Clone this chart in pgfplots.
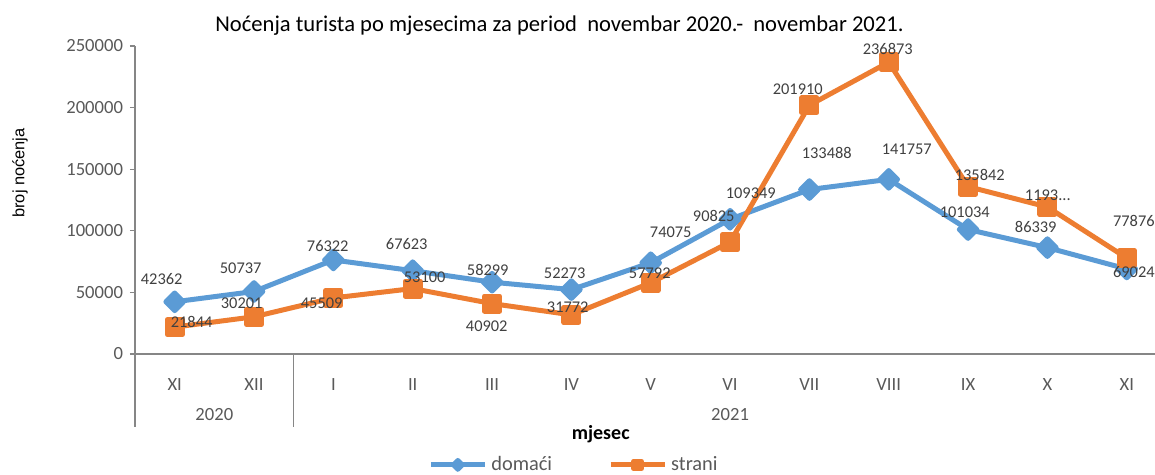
\documentclass[border=0pt]{standalone}
\usepackage{fontspec}
\setmainfont{Carlito}
\newfontfamily\arialfont{Liberation Sans}
\usepackage{pgfplots}
\pgfplotsset{compat=1.18}
\definecolor{cblue}{RGB}{91,155,213}
\definecolor{corange}{RGB}{237,125,49}
\definecolor{axgray}{RGB}{134,134,134}
\definecolor{txtgray}{RGB}{89,89,89}
\definecolor{lblgray}{RGB}{64,64,64}
\begin{document}
\begin{tikzpicture}
\useasboundingbox (-67.5pt,-60.5pt) rectangle (510pt,177pt);
\begin{axis}[
  at={(0,0)}, anchor=south west,
  scale only axis, width=510.4pt, height=154pt,
  xmin=-0.5, xmax=12.366, ymin=0, ymax=250000,
  clip=false,
  axis lines*=left,
  axis line style={axgray, line width=0.6pt},
  xtick={0,1,2,3,4,5,6,7,8,9,10,11,12},
  xticklabels={XI,XII,I,II,III,IV,V,VI,VII,VIII,IX,X,XI},
  x tick style={draw=none},
  ytick={0,50000,100000,150000,200000,250000},
  y tick style={axgray, line width=0.6pt},
  tick align=outside, major tick length=2.5pt,
  scaled y ticks=false,
  /pgf/number format/assume math mode=true,
  yticklabel style={/pgf/number format/fixed, /pgf/number format/1000 sep={}, font=\fontsize{9.3}{11}\selectfont, text=txtgray},
  xticklabel style={anchor=base, yshift=-16pt, font=\fontsize{9.3}{11}\selectfont, text=txtgray},
  legend style={at={(0.431,-0.360)}, anchor=center, draw=none, fill=none,
    legend columns=2, font=\fontsize{10.2}{12}\selectfont, text=txtgray,
    /tikz/every even column/.append style={column sep=26pt}},
  legend image code/.code={\draw[#1, mark repeat=2, mark phase=2, every mark/.append style={scale=0.5}] plot coordinates {(0pt,0pt) (13.5pt,0pt) (27pt,0pt)};},
]
\addplot[cblue, line width=2.5pt, line join=round, mark=diamond*, mark size=4.4pt, mark options={xscale=1.33, solid}]
  coordinates {(0,42362)(1,50737)(2,76322)(3,67623)(4,58299)(5,52273)(6,74075)(7,109349)(8,133488)(9,141757)(10,101034)(11,86339)(12,69024)};
\addlegendentry{domaći}
\addplot[corange, line width=2.5pt, line join=round, mark=square*, mark size=3.75pt, mark options={solid}]
  coordinates {(0,21844)(1,30201)(2,45509)(3,53100)(4,40902)(5,31772)(6,57792)(7,90825)(8,201910)(9,236873)(10,135842)(11,119300)(12,77876)};
\addlegendentry{strani}

% data labels, placed where the reference shows them
\addplot[forget plot, draw=none, mark=none, nodes near coords, point meta=explicit symbolic,
  every node near coord/.style={anchor=center, inner sep=0pt, font=\fontsize{8.2}{10}\selectfont, text=lblgray}]
  coordinates {
  (-0.164,60877)[42362] (0.832,69806)[50737] (1.929,87662)[76322] (2.925,89287)[67623]
  (3.946,68183)[58299] (4.916,65748)[52273] (6.252,99027)[74075] (7.261,130684)[109349]
  (8.219,163152)[133488] (9.227,166398)[141757] (9.958,115262)[101034] (10.853,103086)[86339]
  (12.089,66560)[69024]
  (0.214,25975)[21844] (0.845,41397)[30201] (1.853,41397)[45509] (3.151,62501)[53100]
  (3.933,22728)[40902] (4.954,38150)[31772] (5.988,65748)[57792] (6.794,112015)[90825]
  (7.853,215101)[201910] (8.988,247570)[236873] (10.147,145294)[135842] (11.005,129060)[1193...]
  (12.089,107956)[77876]
  };

% multi-level category separators and group labels
\draw[axgray, line width=0.6pt] (axis cs:-0.5,0) -- ++(0pt,-36.5pt);
\draw[axgray, line width=0.6pt] (axis cs:1.5,0) -- ++(0pt,-36.5pt);
\node[anchor=base, font=\fontsize{9.3}{11}\selectfont, text=txtgray] at (axis cs:0.5,0) [yshift=-33.5pt] {2020};
\node[anchor=base, font=\fontsize{9.3}{11}\selectfont, text=txtgray] at (axis cs:7,0) [yshift=-33.5pt] {2021};

% axis titles
\node[anchor=base, font=\bfseries\fontsize{10}{12}\selectfont] at (axis cs:5.37,0) [yshift=-43pt] {mjesec};
\path (axis cs:-0.5,146918) ++(-57.5pt,0pt) node[rotate=90, anchor=center, font=\arialfont\fontsize{8.2}{10}\selectfont] {broj noćenja};
% title
\node[anchor=base, font=\fontsize{11.3}{14}\selectfont] at (axis cs:4.85,250000) [yshift=7pt] {Noćenja turista po mjesecima za period~ novembar 2020.-~ novembar 2021.};
\end{axis}
\end{tikzpicture}
\end{document}
